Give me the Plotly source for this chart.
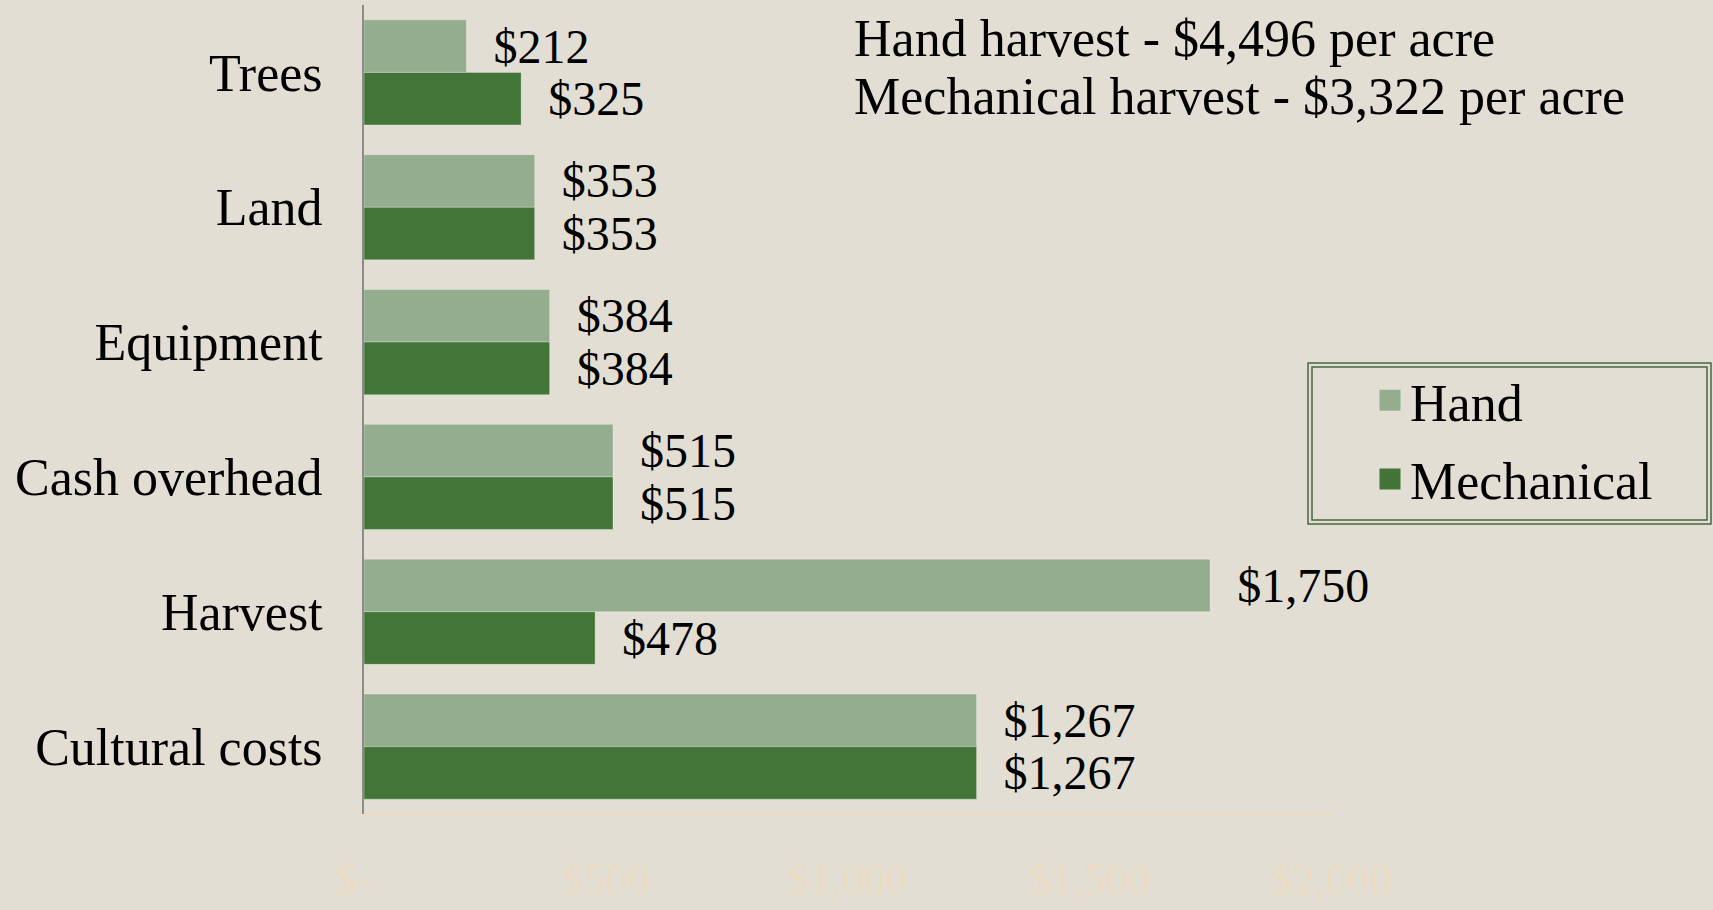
import plotly.graph_objects as go

categories = ["Trees", "Land", "Equipment", "Cash overhead", "Harvest", "Cultural costs"]
hand = [212, 353, 384, 515, 1750, 1267]
mechanical = [325, 353, 384, 515, 478, 1267]
tick_vals = [0, 500, 1000, 1500, 2000]
tick_text = ["$-\u00a0\u00a0", "$500", "$1,000", "$1,500", "$2,000"]
summary_lines = ["Hand harvest - $4,496 per acre", "Mechanical harvest - $3,322 per acre"]

HAND_C = "#93ad8e"
MECH_C = "#437538"
BG = "#e3ded3"
FAINT = "#eadbc3"
SERIF = "Liberation Serif, Times New Roman, serif"

W, H = 1713, 910
L, R, T, B = 364, 382, 5, 96
PW, PH = W - L - R, H - T - B


def px(x):
    return (x - L) / PW


def py(y):
    return (H - B - y) / PH


def fmt(v):
    return "\u2002$" + f"{v:,}"


fig = go.Figure()
for name, vals, col in [("Hand", hand, HAND_C), ("Mechanical", mechanical, MECH_C)]:
    fig.add_trace(go.Bar(
        y=categories, x=vals, orientation="h", name=name,
        marker=dict(color=col, line=dict(color="rgba(255,255,255,0.3)", width=1)),
        text=[fmt(v) for v in vals], textposition="outside",
        textfont=dict(family=SERIF, size=48, color="black"),
        constraintext="none", cliponaxis=False, showlegend=False,
    ))
for name, col in [("Hand", HAND_C), ("Mechanical", MECH_C)]:
    fig.add_trace(go.Scatter(
        x=[None], y=[None], mode="markers", name=name, legendgroup=name,
        marker=dict(symbol="square", size=16, color=col, line=dict(color=col, width=5)),
    ))

fig.update_layout(
    template="none",
    width=W, height=H,
    margin=dict(l=L, r=R, t=T, b=B, autoexpand=False),
    paper_bgcolor=BG, plot_bgcolor=BG,
    barmode="group", bargap=0.22, bargroupgap=0,
    font=dict(family=SERIF, color="black"),
    xaxis=dict(
        range=[0, 2000], tickvals=tick_vals, ticktext=tick_text,
        showgrid=False, zeroline=False, ticks="",
        showline=True, linecolor=FAINT, linewidth=2,
        tickfont=dict(family=SERIF, size=44, color=FAINT),
        ticklabelstandoff=25, automargin=False,
    ),
    yaxis=dict(
        type="category", categoryorder="array", categoryarray=categories,
        autorange="reversed", showgrid=False, zeroline=False, ticks="",
        showline=True, linecolor="#8c8c8c", linewidth=2,
        tickfont=dict(family=SERIF, size=52, color="black"),
        ticklabelstandoff=29, automargin=False,
    ),
    legend=dict(
        x=px(1370), xanchor="left", y=py(360), yanchor="top",
        bgcolor="rgba(0,0,0,0)", borderwidth=0,
        font=dict(family=SERIF, size=52, color="black"),
        tracegroupgap=8, traceorder="grouped",
    ),
    shapes=[
        dict(type="rect", xref="paper", yref="paper",
             x0=px(1308), x1=px(1711), y0=py(524), y1=py(363),
             line=dict(color="#4a6741", width=1.5)),
        dict(type="rect", xref="paper", yref="paper",
             x0=px(1312), x1=px(1707), y0=py(520), y1=py(367),
             line=dict(color="#4a6741", width=1.5)),
    ],
    annotations=[
        dict(text=summary_lines[0], xref="paper", yref="paper", x=px(852), y=py(39),
             xanchor="left", yanchor="middle", showarrow=False,
             font=dict(family=SERIF, size=52, color="black")),
        dict(text=summary_lines[1], xref="paper", yref="paper", x=px(852), y=py(96),
             xanchor="left", yanchor="middle", showarrow=False,
             font=dict(family=SERIF, size=52, color="black")),
    ],
)

fig.write_html("out.html", config={"displayModeBar": False},
               post_script="document.body.style.margin='0';")
